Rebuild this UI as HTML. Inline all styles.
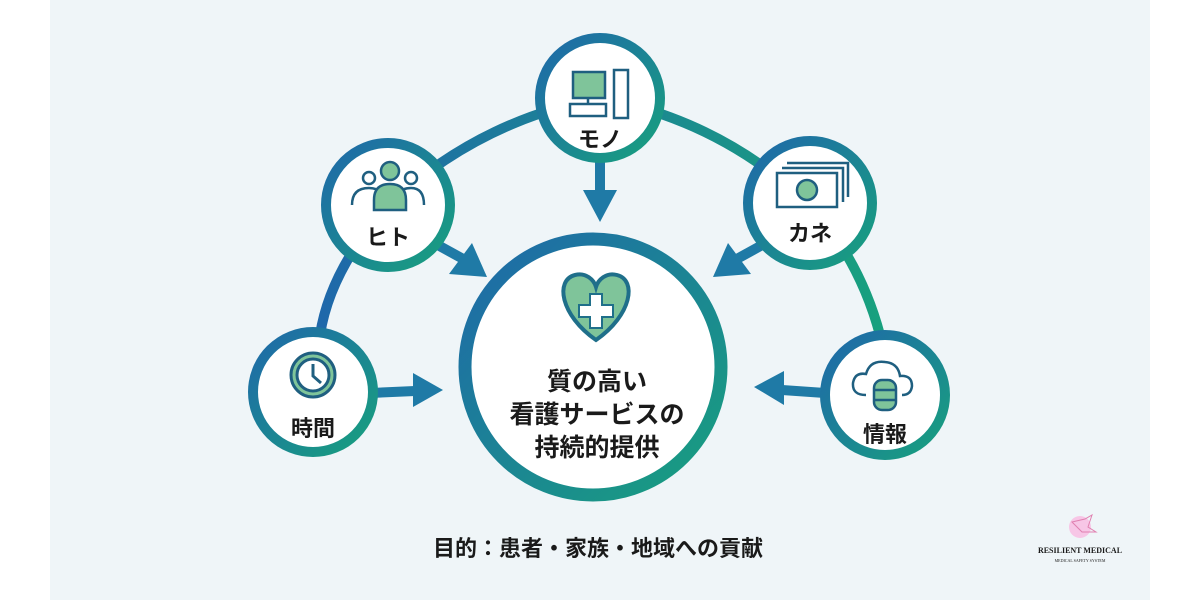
<!DOCTYPE html>
<html><head><meta charset="utf-8"><style>
html,body{margin:0;padding:0;background:#fff;}
svg{display:block}
text{font-family:"Liberation Sans","Noto Sans CJK JP",sans-serif;font-weight:bold;fill:#1a1a1a}
</style></head><body>
<svg width="1200" height="600" viewBox="0 0 1200 600" xmlns="http://www.w3.org/2000/svg">
<defs>
<linearGradient id="g" x1="0" y1="0" x2="1" y2="1">
<stop offset="0" stop-color="#1f68aa"/><stop offset="1" stop-color="#18a07e"/></linearGradient>
<linearGradient id="gh" x1="0" y1="0" x2="1" y2="0">
<stop offset="0" stop-color="#1f68aa"/><stop offset="1" stop-color="#18a07e"/></linearGradient>
</defs>
<rect x="50" y="0" width="1100" height="600" fill="#eff5f8"/>
<path d="M320 335 Q330 270 388 205 Q480 120 600 98 Q720 120 810 205 Q860 260 880 335" fill="none" stroke="url(#gh)" stroke-width="10"/>
<g stroke="#1f7aa6" stroke-width="10" fill="#1f7aa6">
<line x1="425" y1="238" x2="465" y2="260"/><polygon stroke="none" points="487,277 449,274 472,243"/>
<line x1="600" y1="160" x2="600" y2="195"/><polygon stroke="none" points="600,222 583,190 617,190"/>
<line x1="775" y1="238" x2="735" y2="260"/><polygon stroke="none" points="713,277 728,243 751,274"/>
<line x1="370" y1="393" x2="415" y2="391"/><polygon stroke="none" points="443,390 413,373 413,407"/>
<line x1="825" y1="393" x2="782" y2="390"/><polygon stroke="none" points="754,387 784,371 784,405"/>
</g>
<circle cx="593" cy="367" r="128" fill="#fff" stroke="url(#g)" stroke-width="13"/>
<path d="M596 340 C560 315 555 280 575 275 C586 272 594 280 596 287 C598 280 606 272 617 275 C637 280 632 315 596 340Z" fill="#7fc49a" stroke="#1f6f8a" stroke-width="4"/>
<rect x="590" y="294" width="12" height="34" fill="#fff" stroke="#1f6f8a" stroke-width="2"/>
<rect x="579" y="305" width="34" height="12" fill="#fff" stroke="#1f6f8a" stroke-width="2"/>
<rect x="591" y="295" width="10" height="32" fill="#fff"/>
<text x="597" y="390" font-size="25" text-anchor="middle">質の高い</text>
<text x="597" y="423" font-size="25" text-anchor="middle">看護サービスの</text>
<text x="597" y="456" font-size="25" text-anchor="middle">持続的提供</text>
<g fill="#fff" stroke="url(#g)" stroke-width="10">
<circle cx="388" cy="205" r="62"/>
<circle cx="600" cy="98" r="60"/>
<circle cx="810" cy="203" r="62"/>
<circle cx="313" cy="392" r="60"/>
<circle cx="885" cy="395" r="60"/>
</g>
<g stroke="#1f5f80" stroke-width="2.5" fill="none">
<circle cx="369" cy="178" r="6"/><circle cx="411" cy="178" r="6"/>
<path d="M352 205 Q352 188 369 188 Q378 188 382 194"/><path d="M424 205 Q424 188 411 188 Q402 188 398 194"/>
<circle cx="390" cy="171" r="9" fill="#7fc49a"/>
<path d="M374 210 L374 200 Q374 184 390 184 Q406 184 406 200 L406 210Z" fill="#7fc49a"/>
</g>
<text x="388" y="245" font-size="22" text-anchor="middle">ヒト</text>
<g stroke="#1f5f80" stroke-width="2.5" fill="none">
<rect x="573" y="72" width="32" height="26" fill="#7fc49a"/>
<rect x="570" y="104" width="36" height="12"/>
<rect x="614" y="70" width="14" height="48"/>
<line x1="588" y1="98" x2="588" y2="104"/>
</g>
<text x="600" y="147" font-size="22" text-anchor="middle">モノ</text>
<g stroke="#1f5f80" stroke-width="2.5" fill="none">
<path d="M787 163 H848 V197"/><path d="M782 168 H843 V202"/>
<rect x="777" y="173" width="60" height="34" fill="#fff"/>
<circle cx="807" cy="190" r="10" fill="#7fc49a"/>
</g>
<text x="810" y="241" font-size="22" text-anchor="middle">カネ</text>
<g stroke="#1f5f80" stroke-width="3" fill="none">
<circle cx="313" cy="375" r="22" fill="#7fc49a"/><circle cx="313" cy="375" r="16" fill="#fff"/>
<path d="M313 364 V376 L321 383"/>
</g>
<text x="313" y="436" font-size="22" text-anchor="middle">時間</text>
<g stroke="#1f5f80" stroke-width="2.5" fill="none">
<path d="M866 395 Q852 395 853 383 Q855 372 866 374 Q870 360 885 362 Q898 363 900 376 Q912 375 912 386 Q911 395 902 395"/>
<rect x="874" y="380" width="22" height="30" rx="8" fill="#7fc49a"/>
<line x1="874" y1="390" x2="896" y2="390"/><line x1="874" y1="400" x2="896" y2="400"/>
</g>
<text x="885" y="442" font-size="22" text-anchor="middle">情報</text>
<text x="598" y="556" font-size="22" text-anchor="middle">目的：患者・家族・地域への貢献</text>
<circle cx="1080" cy="527" r="11" fill="#f7c6e6"/>
<path d="M1072 522 L1085 519 L1092 515 L1088 527 L1096 532 L1082 532 Z" fill="none" stroke="#e080b0" stroke-width="1"/>
<text x="1080" y="553" font-size="8" text-anchor="middle" style="font-family:'Liberation Serif',serif">RESILIENT MEDICAL</text>
<text x="1080" y="562" font-size="4" text-anchor="middle" style="font-family:'Liberation Serif',serif;font-weight:normal">MEDICAL SAFETY SYSTEM</text>
</svg>
</body></html>
